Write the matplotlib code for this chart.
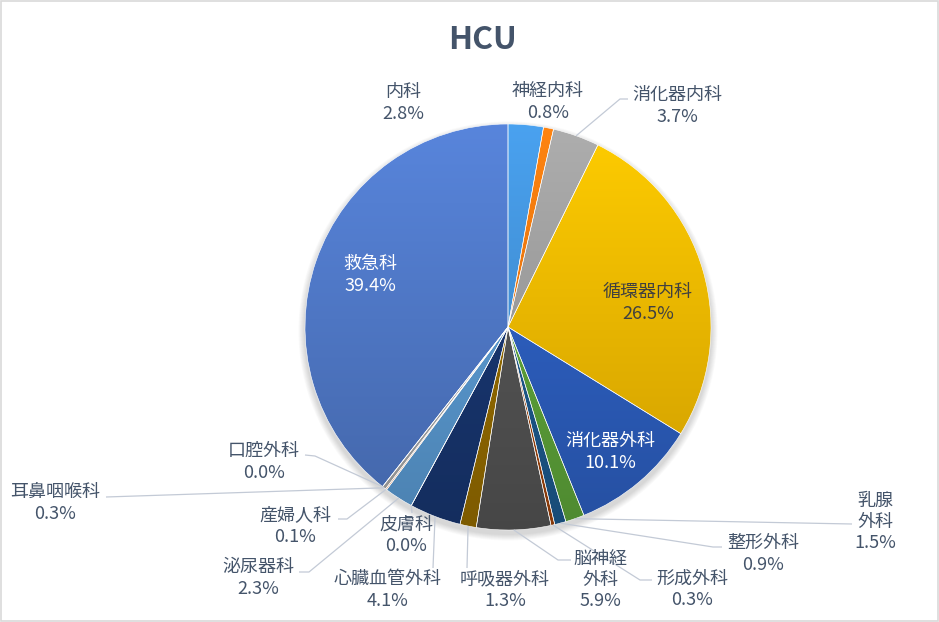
import numpy as np
import matplotlib
matplotlib.use("Agg")
import matplotlib.pyplot as plt
from matplotlib.colors import LinearSegmentedColormap, to_rgb
from matplotlib.patches import Rectangle, Circle

plt.rcParams['font.family'] = ['Noto Sans CJK JP', 'DejaVu Sans']

# data (percent of HCU patients by department)
departments = ['内科', '神経内科', '消化器内科', '循環器内科', '消化器外科', '乳腺外科',
               '整形外科', '形成外科', '脳神経外科', '呼吸器外科', '心臓血管外科', '皮膚科',
               '泌尿器科', '産婦人科', '耳鼻咽喉科', '口腔外科', '救急科']
shares = [2.8, 0.8, 3.7, 26.5, 10.1, 1.5, 0.9, 0.3, 5.9, 1.3, 4.1, 0.0,
          2.3, 0.1, 0.3, 0.0, 39.4]
colors = ['#4393DA', '#F5780F', '#9E9E9E', '#F5BA00', '#2D5FC0', '#5EA43A',
          '#1D5A8E', '#A0440C', '#545454', '#956C00', '#183670', '#43682B',
          '#5A9AD2', '#F1975A', '#A8A8A8', '#FFCD33', '#5079C8']
wrapped = {'乳腺外科': '乳腺\n外科', '脳神経外科': '脳神経\n外科'}

W, H = 939, 622
cx, cy, r = 508, 327, 203   # pie centre / radius in image pixels
text_col = '#44546A'
line_col = '#C3CAD6'

# label layout: centre of text block, and leader polyline end points (image px)
label_pos = {
    '内科': (403, 103), '神経内科': (548, 102), '消化器内科': (677, 106),
    '循環器内科': (648, 303), '消化器外科': (610, 452), '乳腺外科': (875, 522),
    '整形外科': (763, 554), '形成外科': (692, 589), '脳神経外科': (600, 580),
    '呼吸器外科': (505, 590), '心臓血管外科': (388, 590), '皮膚科': (406, 535),
    '泌尿器科': (258, 578), '産婦人科': (295, 526), '耳鼻咽喉科': (55, 503),
    '口腔外科': (264, 462), '救急科': (370, 275),
}
leaders = {
    '消化器内科': [(620, 99), (628, 99)],
    '乳腺外科': [(852, 524)],
    '整形外科': [(713, 547), (722, 547)],
    '形成外科': [(640, 580), (652, 580)],
    '脳神経外科': [(558, 560), (571, 560)],
    '呼吸器外科': [(467, 568)],
    '心臓血管外科': [(433, 568)],
    '皮膚科': [(412, 513)],
    '泌尿器科': [(309, 572), (299, 572)],
    '産婦人科': [(347, 519), (338, 519)],
    '耳鼻咽喉科': [(106, 497)],
    '口腔外科': [(315, 456), (305, 455)],
}
inside_white = ['救急科', '消化器外科']
inside_dark = ['循環器内科']


def Y(y):
    return H - y


def shade(c, f):
    return tuple(min(1.0, v * f) for v in to_rgb(c))


fig = plt.figure(figsize=(W / 100, H / 100), dpi=100)
ax = fig.add_axes([0, 0, 1, 1])

# soft shadow under the pie
for k in range(8):
    ax.add_patch(Circle((cx, Y(cy) - 4), r + 1 + k * 0.8, color='black',
                        alpha=0.02, lw=0, zorder=0))

wedges, _ = ax.pie(shares, colors=colors, startangle=90, counterclock=False,
                   center=(cx, Y(cy)), radius=r,
                   wedgeprops=dict(edgecolor='white', linewidth=0.4))

grad = np.linspace(0, 1, 256).reshape(-1, 1)
for w, c in zip(wedges, colors):
    cmap = LinearSegmentedColormap.from_list('g', [shade(c, 1.1), shade(c, 0.84)])
    im = ax.imshow(grad, extent=(cx - r, cx + r, Y(cy) - r, Y(cy) + r),
                   origin='upper', cmap=cmap, aspect='auto', zorder=1)
    im.set_clip_path(w)
    w.set_facecolor('none')
    w.set_zorder(2)

# labels and leader lines
cum = 0.0
for name, v in zip(departments, shares):
    mid = cum + v / 2
    cum += v
    ang = np.deg2rad(90 - 360 * mid / 100)
    ex, ey = cx + r * np.cos(ang), cy - r * np.sin(ang)
    if name in leaders:
        pts = [(ex, ey)] + leaders[name]
        ax.plot([p[0] for p in pts], [Y(p[1]) for p in pts], color=line_col,
                lw=0.9, zorder=3, solid_capstyle='butt')
    txt = f"{wrapped.get(name, name)}\n{v:.1f}%"
    col = text_col
    if name in inside_white:
        col = 'white'
    elif name in inside_dark:
        col = '#404040'
    lx, ly = label_pos[name]
    ax.text(lx, Y(ly), txt, ha='center', va='center', fontsize=13, color=col,
            linespacing=1.25, zorder=4)

ax.text(W / 2 + 13, Y(40), 'HCU', ha='center', va='center', fontsize=23,
        fontweight='bold', color=text_col)

ax.add_patch(Rectangle((1, 1), W - 2, H - 2, fill=False, ec='#D9D9D9', lw=1.2, zorder=5))
ax.set_xlim(0, W)
ax.set_ylim(0, H)
ax.set_aspect('auto')
ax.axis('off')

fig.savefig('out.png', dpi=100, facecolor='white')
